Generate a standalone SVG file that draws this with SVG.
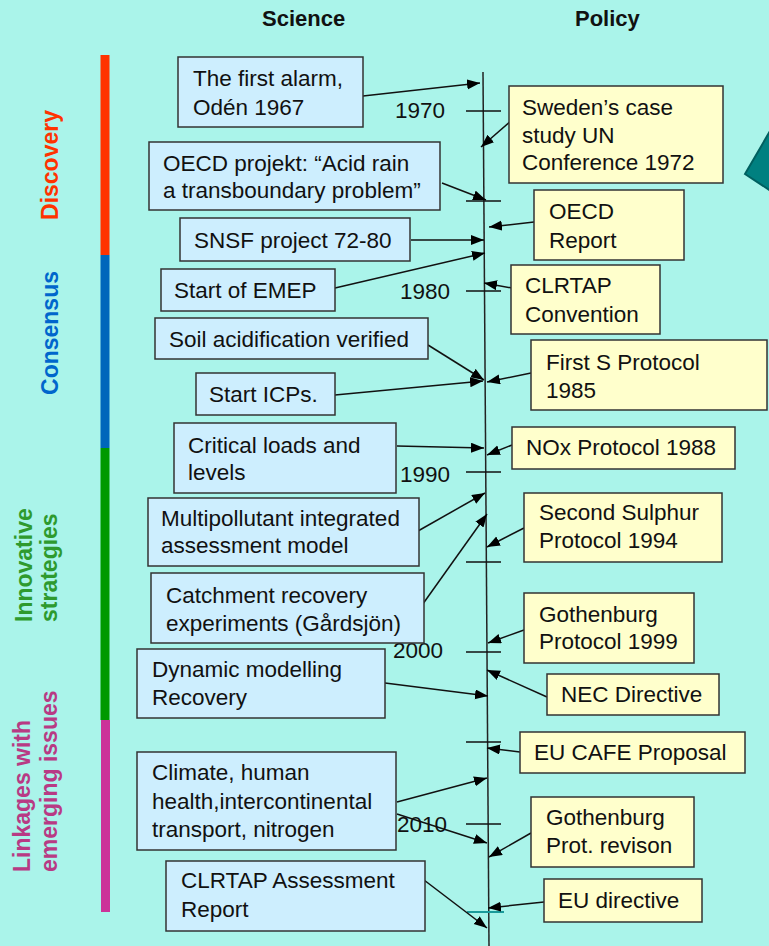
<svg xmlns="http://www.w3.org/2000/svg" width="769" height="946" viewBox="0 0 769 946">
<style>
.t{font-family:"Liberation Sans",Arial,sans-serif;font-size:22.5px;fill:#111}
.h{font-family:"Liberation Sans",Arial,sans-serif;font-size:22px;font-weight:bold;fill:#111}
.ph{font-family:"Liberation Sans",Arial,sans-serif;font-size:23px;font-weight:bold}
.sb{fill:#cdeefe;stroke:#333;stroke-width:1.5}
.pb{fill:#ffffcc;stroke:#333;stroke-width:1.5}
.c{stroke:#111;stroke-width:1.5;fill:none;marker-end:url(#ah)}
.tk{stroke:#111;stroke-width:1.3}
</style>
<defs>
<marker id="ah" markerUnits="userSpaceOnUse" markerWidth="14" markerHeight="11" refX="13" refY="5" orient="auto">
<path d="M0,0 L13,5 L0,10 z" fill="#000"/>
</marker>
</defs>
<rect width="769" height="946" fill="#aaf4ea"/>
<polygon points="745,174 780,114 780,197" fill="#008080" stroke="#006060" stroke-width="2"/>
<g id="titles">
<text class="h" x="262" y="26">Science</text>
<text class="h" x="575" y="26">Policy</text>
</g>
<g id="phases">
<rect x="100.5" y="55" width="9" height="200" fill="#ff3300"/>
<rect x="100.5" y="255" width="9" height="193" fill="#0066bb"/>
<rect x="100.5" y="448" width="9" height="272" fill="#009900"/>
<rect x="101" y="720" width="9" height="192" fill="#cc3399"/>
<text class="ph" fill="#ff3300" text-anchor="middle" transform="translate(58,165) rotate(-90)">Discovery</text>
<text class="ph" fill="#0066cc" text-anchor="middle" transform="translate(58,333) rotate(-90)">Consensus</text>
<text class="ph" fill="#2e9a2e" transform="translate(32,622) rotate(-90)">Innovative</text>
<text class="ph" fill="#2e9a2e" transform="translate(57,622) rotate(-90)">strategies</text>
<text class="ph" fill="#b83a84" transform="translate(30,872) rotate(-90)">Linkages with</text>
<text class="ph" fill="#b83a84" transform="translate(57,872) rotate(-90)">emerging issues</text>
</g>
<g id="timeline">
<line x1="483" y1="72" x2="489" y2="946" stroke="#222" stroke-width="1.5"/>
<line class="tk" x1="466" y1="111" x2="501" y2="111"/>
<line class="tk" x1="466" y1="201" x2="501" y2="201"/>
<line class="tk" x1="466" y1="291" x2="501" y2="291"/>
<line class="tk" x1="466" y1="472" x2="501" y2="472"/>
<line class="tk" x1="466" y1="562" x2="501" y2="562"/>
<line class="tk" x1="466" y1="652" x2="501" y2="652"/>
<line class="tk" x1="466" y1="742" x2="501" y2="742"/>
<line class="tk" x1="466" y1="824" x2="501" y2="824"/>
<line x1="467" y1="912" x2="504" y2="912" stroke="#1a9a9a" stroke-width="2"/>
<text class="t" x="395" y="118">1970</text>
<text class="t" x="400" y="299">1980</text>
<text class="t" x="400" y="482">1990</text>
<text class="t" x="393" y="658">2000</text>
<text class="t" x="397" y="832">2010</text>
</g>
<g id="connectors">
<line class="c" x1="363" y1="96" x2="480" y2="83"/>
<line class="c" x1="512" y1="120" x2="481" y2="147"/>
<line class="c" x1="442" y1="183" x2="486" y2="200"/>
<line class="c" x1="534" y1="222" x2="489" y2="227"/>
<line class="c" x1="411" y1="240" x2="484" y2="240"/>
<line class="c" x1="335" y1="288" x2="485" y2="253"/>
<line class="c" x1="512" y1="288" x2="484" y2="283"/>
<line class="c" x1="428" y1="345" x2="484" y2="380"/>
<line class="c" x1="335" y1="395" x2="483" y2="381"/>
<line class="c" x1="531" y1="373" x2="487" y2="382"/>
<line class="c" x1="397" y1="446" x2="484" y2="448"/>
<line class="c" x1="512" y1="445" x2="487" y2="455"/>
<line class="c" x1="418" y1="531" x2="485" y2="493"/>
<line class="c" x1="420" y1="608" x2="487" y2="514"/>
<line class="c" x1="524" y1="528" x2="487" y2="547"/>
<line class="c" x1="524" y1="630" x2="488" y2="643"/>
<line class="c" x1="547" y1="697" x2="487" y2="670"/>
<line class="c" x1="385" y1="683" x2="488" y2="696"/>
<line class="c" x1="520" y1="752" x2="487" y2="748"/>
<line class="c" x1="397" y1="802" x2="487" y2="778"/>
<line class="c" x1="397" y1="814" x2="487" y2="843"/>
<line class="c" x1="531" y1="833" x2="489" y2="857"/>
<line class="c" x1="544" y1="902" x2="488" y2="908"/>
<line class="c" x1="424" y1="880" x2="487" y2="928"/>
</g>
<g id="s1"><rect class="sb" x="178" y="57" width="185" height="70"/><text class="t" x="193" y="86">The first alarm,<tspan x="193" dy="29">Odén 1967</tspan></text></g>
<g id="s2"><rect class="sb" x="149" y="142" width="291" height="68"/><text class="t" x="163" y="171">OECD projekt: “Acid rain<tspan x="163" dy="27">a transboundary problem”</tspan></text></g>
<g id="s3"><rect class="sb" x="180" y="218" width="230" height="43"/><text class="t" x="194" y="248">SNSF project 72-80</text></g>
<g id="s4"><rect class="sb" x="161" y="269" width="174" height="42"/><text class="t" x="174" y="298">Start of EMEP</text></g>
<g id="s5"><rect class="sb" x="155" y="318" width="273" height="41"/><text class="t" x="169" y="347">Soil acidification verified</text></g>
<g id="s6"><rect class="sb" x="196" y="373" width="139" height="42"/><text class="t" x="209" y="402">Start ICPs.</text></g>
<g id="s7"><rect class="sb" x="174" y="423" width="222" height="70"/><text class="t" x="188" y="453">Critical loads and<tspan x="188" dy="27">levels</tspan></text></g>
<g id="s8"><rect class="sb" x="148" y="498" width="271" height="68"/><text class="t" x="161" y="526">Multipollutant integrated<tspan x="161" dy="27">assessment model</tspan></text></g>
<g id="s9"><rect class="sb" x="151" y="573" width="273" height="70"/><text class="t" x="166" y="603">Catchment recovery<tspan x="166" dy="28">experiments (Gårdsjön)</tspan></text></g>
<g id="s10"><rect class="sb" x="137" y="649" width="248" height="69"/><text class="t" x="152" y="677">Dynamic modelling<tspan x="152" dy="28">Recovery</tspan></text></g>
<g id="s11"><rect class="sb" x="137" y="752" width="259" height="98"/><text class="t" x="152" y="780">Climate, human<tspan x="152" dy="28.5">health,intercontinental</tspan><tspan x="152" dy="28.5">transport, nitrogen</tspan></text></g>
<g id="s12"><rect class="sb" x="166" y="861" width="259" height="70"/><text class="t" x="181" y="888">CLRTAP Assessment<tspan x="181" dy="29">Report</tspan></text></g>
<g id="p1"><rect class="pb" x="509" y="86" width="214" height="97"/><text class="t" x="522" y="115">Sweden’s case<tspan x="522" dy="28">study UN</tspan><tspan x="522" dy="27">Conference 1972</tspan></text></g>
<g id="p2"><rect class="pb" x="534" y="190" width="150" height="70"/><text class="t" x="549" y="219">OECD<tspan x="549" dy="29">Report</tspan></text></g>
<g id="p3"><rect class="pb" x="511" y="265" width="149" height="69"/><text class="t" x="525" y="293">CLRTAP<tspan x="525" dy="29">Convention</tspan></text></g>
<g id="p4"><rect class="pb" x="531" y="340" width="236" height="70"/><text class="t" x="546" y="370">First S Protocol<tspan x="546" dy="28">1985</tspan></text></g>
<g id="p5"><rect class="pb" x="512" y="427" width="223" height="42"/><text class="t" x="526" y="455">NOx Protocol 1988</text></g>
<g id="p6"><rect class="pb" x="524" y="493" width="198" height="69"/><text class="t" x="539" y="520">Second Sulphur<tspan x="539" dy="28">Protocol 1994</tspan></text></g>
<g id="p7"><rect class="pb" x="524" y="593" width="170" height="70"/><text class="t" x="539" y="622">Gothenburg<tspan x="539" dy="27">Protocol 1999</tspan></text></g>
<g id="p8"><rect class="pb" x="547" y="674" width="172" height="41"/><text class="t" x="561" y="702">NEC Directive</text></g>
<g id="p9"><rect class="pb" x="520" y="732" width="225" height="41"/><text class="t" x="534" y="760">EU CAFE Proposal</text></g>
<g id="p10"><rect class="pb" x="531" y="797" width="163" height="70"/><text class="t" x="546" y="825">Gothenburg<tspan x="546" dy="28">Prot. revison</tspan></text></g>
<g id="p11"><rect class="pb" x="544" y="879" width="158" height="43"/><text class="t" x="558" y="908">EU directive</text></g>
</svg>
